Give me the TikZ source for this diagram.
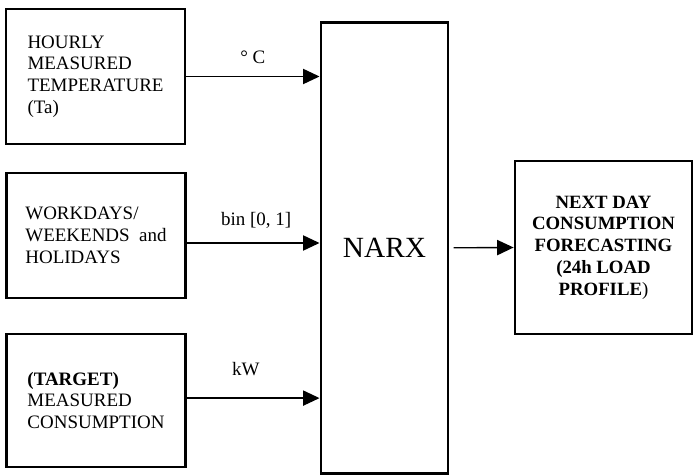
\documentclass[tikz,border=0pt]{standalone}
\usepackage{fontspec}
\setmainfont{Liberation Serif}
\usetikzlibrary{positioning,calc,arrows.meta}

\begin{document}
\begin{tikzpicture}[
    font=\fontsize{9}{10.3}\selectfont,
    >={Triangle[length=7.8pt,width=7.2pt]},
    inbox/.style={draw, line width=1.3pt, align=left, minimum width=2.98cm},
    outbox/.style={draw, line width=1.3pt, align=center, font=\fontsize{8.9}{10.3}\selectfont\bfseries},
    arrow/.style={->, line width=0.65pt}
]
\useasboundingbox (0,0) rectangle (11.55,-7.933);
\node[inbox, minimum height=2.25cm] (temp) at (1.592,-1.275) {HOURLY\\MEASURED\\TEMPERATURE\\(Ta)};
\node[inbox, minimum height=2.08cm] (days) at (1.6,-3.925) {WORKDAYS/\\WEEKENDS \ and\\HOLIDAYS};
\node[inbox, minimum height=2.22cm] (load) at (1.6,-6.675) {\textbf{(TARGET)}\\MEASURED\\CONSUMPTION};
\node[draw, line width=1.3pt, minimum width=2.12cm, minimum height=7.52cm, font=\fontsize{13.9}{15}\selectfont] (narx) at (6.408,-4.13) {NARX};
\node[outbox, minimum width=2.95cm, minimum height=2.88cm] (forecast) at (10.058,-4.125) {NEXT DAY\\CONSUMPTION\\FORECASTING\\(24h LOAD\\PROFILE\textmd{)}};
\draw[arrow] (temp.east) -- node[yshift=0.32cm] (degc) {° C} (temp.east -| narx.west);
\draw[arrow] ([yshift=-0.125cm]days.east) -- node[xshift=0.05cm, yshift=0.38cm] (bin) {bin [0, 1]} ([yshift=-0.125cm]days.east -| narx.west);
\draw[arrow] ([yshift=0.04cm]load.east) -- node[xshift=-0.12cm, yshift=0.48cm] (kw) {kW} ([yshift=0.04cm]load.east -| narx.west);
\draw[arrow] ([xshift=0.07cm]narx.east) -- (forecast.west);
\end{tikzpicture}
\end{document}
